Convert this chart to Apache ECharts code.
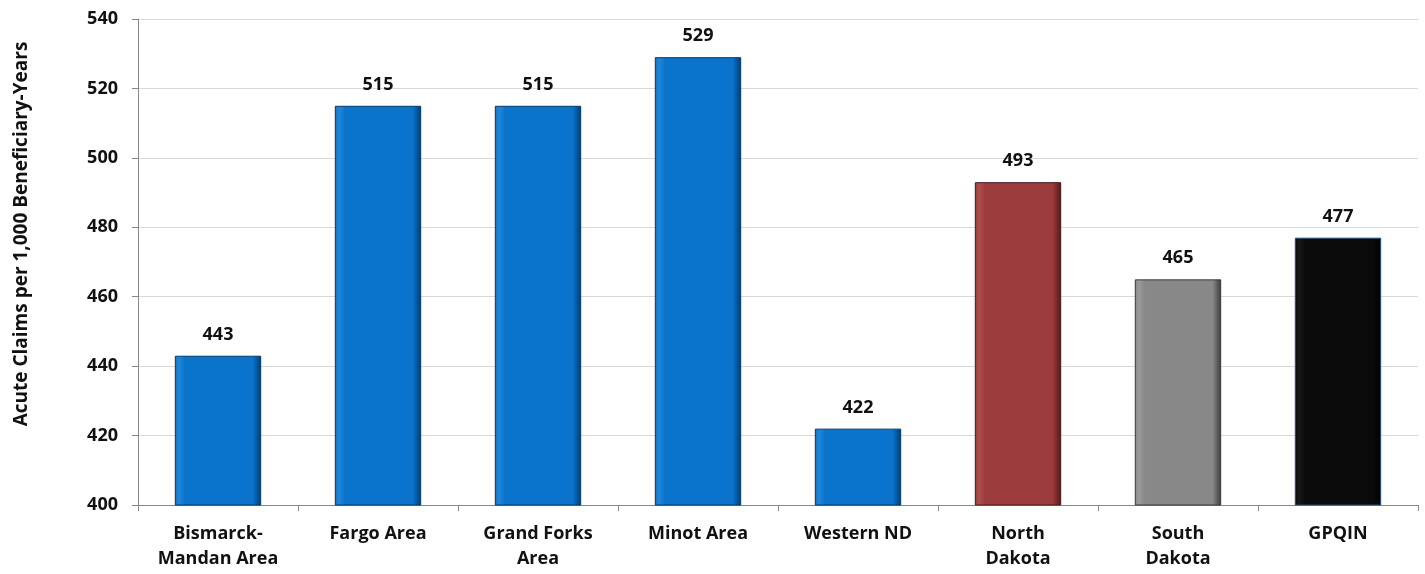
<!DOCTYPE html>
<html>
<head>
<meta charset="utf-8">
<script src="https://cdn.jsdelivr.net/npm/echarts@6/dist/echarts.min.js"></script>
<style>
	html, body { margin: 0; padding: 0; background: #fff; }
	#chart { width: 1425px; height: 574px; }
</style>
</head>
<body>
<div id="chart"></div>
<script>
// 数据
var categories = ['Bismarck-\nMandan Area', 'Fargo Area', 'Grand Forks\nArea', 'Minot Area', 'Western ND', 'North\nDakota', 'South\nDakota', 'GPQIN'];
var values = [443, 515, 515, 529, 422, 493, 465, 477];
var yTicks = [400, 420, 440, 460, 480, 500, 520, 540];
var yTitle = 'Acute Claims per 1,000 Beneficiary-Years';

// 每个柱子的颜色 [亮, 主, 暗]
var barColors = [
	['#1f86dc', '#0a74cc', '#063a66'],
	['#1f86dc', '#0a74cc', '#063a66'],
	['#1f86dc', '#0a74cc', '#063a66'],
	['#1f86dc', '#0a74cc', '#063a66'],
	['#1f86dc', '#0a74cc', '#063a66'],
	['#b04c4c', '#9c3c3c', '#4a1a1a'],
	['#9a9a9a', '#888888', '#3a3a3a'],
	['#1a1a1a', '#0a0a0a', '#000000']
];

window.onload = function() {
	var chart = echarts.init(document.getElementById('chart'));
	var font = '"Open Sans", "Liberation Sans", sans-serif';

	var data = values.map(function(v, i) {
		var c = barColors[i];
		return {
			value: v,
			itemStyle: {
				color: new echarts.graphic.LinearGradient(0, 0, 1, 0, [
					{ offset: 0, color: c[1] },
					{ offset: 0.05, color: c[0] },
					{ offset: 0.12, color: c[1] },
					{ offset: 0.9, color: c[1] },
					{ offset: 1, color: c[2] }
				]),
				borderColor: i === 7 ? '#1f4e79' : c[2],
				borderWidth: 1
			}
		};
	});

	var option = {
		animation: false,
		grid: {
			left: 138,
			right: 7,
			top: 19,
			bottom: 69
		},
		// Y轴标题，位置比图表中心略高
		graphic: [{
			type: 'text',
			x: 22,
			y: 234,
			rotation: Math.PI / 2,
			style: {
				text: yTitle,
				fill: '#111',
				font: 'bold 19px "Open Sans", sans-serif',
				align: 'center',
				verticalAlign: 'middle'
			}
		}],
		xAxis: {
			type: 'category',
			data: categories,
			axisLine: { lineStyle: { color: '#888', width: 1 } },
			axisTick: { show: true, alignWithLabel: false, length: 6, lineStyle: { color: '#888' } },
			axisLabel: {
				color: '#111',
				fontFamily: font,
				fontWeight: 'bold',
				fontSize: 18,
				lineHeight: 25,
				margin: 16
			}
		},
		yAxis: {
			type: 'value',
			min: yTicks[0],
			max: yTicks[yTicks.length - 1],
			interval: 20,
			axisLine: { show: true, lineStyle: { color: '#888', width: 1 } },
			axisTick: { show: true, length: 6, lineStyle: { color: '#888' } },
			axisLabel: {
				color: '#111',
				fontFamily: font,
				fontWeight: 'bold',
				fontSize: 18,
				margin: 20
			},
			splitLine: { lineStyle: { color: '#d9d9d9', width: 1 } }
		},
		series: [{
			type: 'bar',
			data: data,
			barWidth: '54%',
			label: {
				show: true,
				position: 'top',
				distance: 12,
				color: '#111',
				fontFamily: font,
				fontWeight: 'bold',
				fontSize: 18
			}
		}]
	};
	chart.setOption(option);
};
</script>
</body>
</html>
